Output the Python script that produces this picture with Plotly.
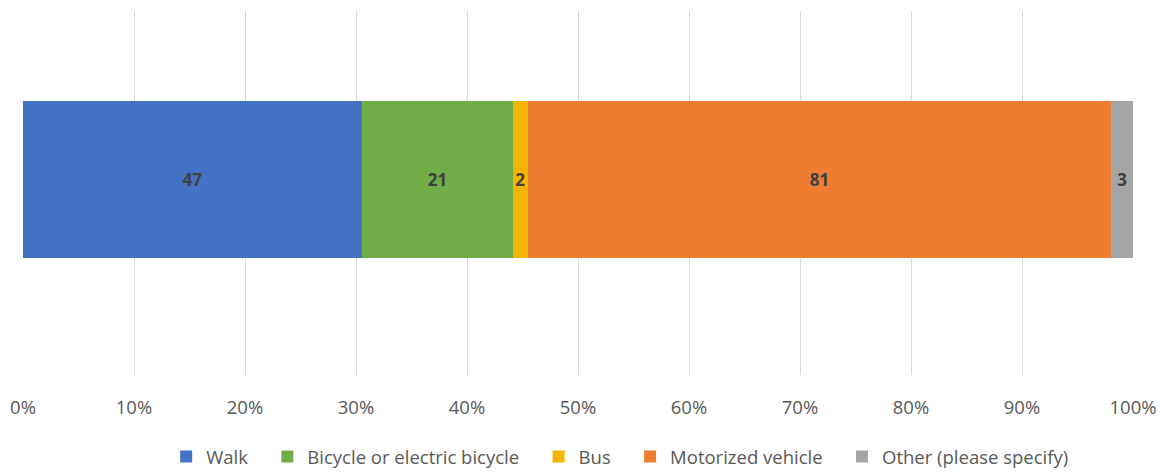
import plotly.graph_objects as go

categories = ["Walk", "Bicycle or electric bicycle", "Bus", "Motorized vehicle", "Other (please specify)"]
values = [47, 21, 2, 81, 3]
colors = ["#4472C4", "#70AD47", "#F4B400", "#ED7D31", "#A5A5A5"]
tick_vals = [0, 10, 20, 30, 40, 50, 60, 70, 80, 90, 100]
tick_text = [f"{v}%" for v in tick_vals]

FONT = "Open Sans"
PAD = "\u00a0\u00a0\u00a0"

fig = go.Figure()
for i, (name, v, c) in enumerate(zip(categories, values, colors)):
    legend_name = name + (PAD if i < len(categories) - 1 else "")
    fig.add_trace(go.Bar(
        name=legend_name, x=[v], y=[0], orientation="h", width=[1],
        marker=dict(color=c, line=dict(width=0)),
        text=[str(v)], textposition="inside", insidetextanchor="middle",
        constraintext="none",
        textfont=dict(family=FONT, size=17, color="#404040", weight="bold"),
        hovertemplate=name + ": %{text}<extra></extra>",
    ))

fig.update_layout(
    barmode="stack", barnorm="percent",
    width=1164, height=472,
    margin=dict(l=23, r=31, t=11, b=97, autoexpand=False),
    paper_bgcolor="white", plot_bgcolor="white",
    font=dict(family=FONT, color="#595959"),
    xaxis=dict(range=[0, 100], tickvals=tick_vals, ticktext=tick_text,
               showgrid=True, gridcolor="#D9D9D9", gridwidth=1,
               zeroline=False, showline=False, ticks="",
               ticklabelstandoff=19, automargin=False,
               tickfont=dict(family=FONT, size=18.5, color="#595959")),
    yaxis=dict(range=[-1.245, 1.073], showticklabels=False, showgrid=False,
               zeroline=False, showline=False, fixedrange=True, automargin=False),
    legend=dict(orientation="h", x=0.538, xanchor="center", y=-0.225, yanchor="middle",
                font=dict(family=FONT, size=18.5, color="#595959"),
                traceorder="normal", itemwidth=30),
    showlegend=True,
)

fig.write_html("out.html", config={"displayModeBar": False},
               post_script="document.body.style.margin='0';document.body.style.overflow='hidden';")
